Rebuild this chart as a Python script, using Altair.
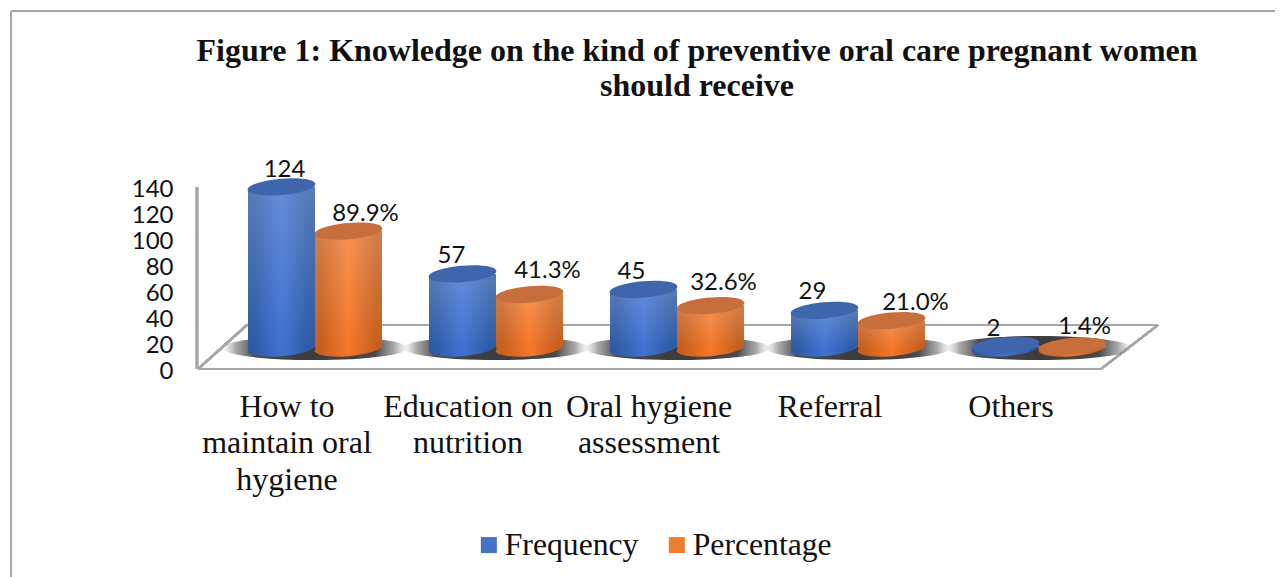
import altair as alt
import pandas as pd

CATEGORIES = ["How to|maintain oral|hygiene", "Education on|nutrition", "Oral hygiene|assessment", "Referral", "Others"]
FREQUENCY = [124, 57, 45, 29, 2]
PERCENTAGE = [89.9, 41.3, 32.6, 21.0, 1.4]
SERIES = ["Frequency", "Percentage"]
Y_TICKS = [0, 20, 40, 60, 80, 100, 120, 140]
TITLE = ["Figure 1: Knowledge on the kind of preventive oral care pregnant women", "should receive"]

rows = []
for c, f, p in zip(CATEGORIES, FREQUENCY, PERCENTAGE):
    rows.append({"category": c, "series": "Frequency", "value": f, "label": f"{f}"})
    rows.append({"category": c, "series": "Percentage", "value": p, "label": f"{p:.1f}%"})
data = pd.DataFrame(rows)
cat_order = CATEGORIES

W, H = 1264, 566
OX, OY = 11, 11            # page position of the view's origin
PX_PER_UNIT = 1.3
ZERO_Y = 369 - OY
FLOOR_LEVEL = 21 / PX_PER_UNIT   # cylinders stand on the floor, behind its front edge (axis units)
GRAY = "#A6A6A6"

x_scale = alt.Scale(domain=cat_order, range=[224.5 - OX, 224.5 - OX + 905], paddingInner=0, paddingOuter=0)
off_scale = alt.Scale(domain=SERIES, range=[23.5, 157.5], paddingInner=0, paddingOuter=0)
y_scale = alt.Scale(domain=[-(H - ZERO_Y) / PX_PER_UNIT, ZERO_Y / PX_PER_UNIT], nice=False, zero=False)

X = alt.X("category:N", scale=x_scale, sort=cat_order, title=None,
          axis=alt.Axis(orient="bottom", offset=-(H - (391 - OY)), domain=False, ticks=False, grid=False,
                        labelAngle=0, labelFont="Liberation Serif", labelFontSize=32, labelColor="#111111",
                        labelOffset=-28, labelPadding=0, labelBaseline="top", labelLimit=0, labelLineHeight=36.5,
                        labelExpr="split(datum.label, '|')"))
XO = alt.XOffset("series:N", scale=off_scale)
Y_AXIS = alt.Axis(values=Y_TICKS, offset=-(197 - OX), domain=False, ticks=False, grid=False,
                  labelFont="Lato", labelFontSize=24, labelColor="#111111", labelPadding=24, labelOffset=2)
Y_TOP = alt.Y("top:Q", scale=y_scale, title=None, axis=Y_AXIS)
Y_FLOOR = alt.Y("floor:Q", scale=y_scale, title=None, axis=Y_AXIS)
Y2_FLOOR = alt.Y2("floor:Q")


def stops(*pairs):
    return [alt.GradientStop(offset=o, color=c) for o, c in pairs]


def hgrad(edge, mid):
    return alt.Gradient(gradient="linear", x1=0, x2=1, y1=0, y2=0,
                        stops=stops((0, edge), (0.08, edge), (0.5, mid), (0.92, edge), (1, edge)))


SHINE = alt.Gradient(gradient="linear", x1=0, x2=0, y1=0, y2=1,
                     stops=stops((0, "rgba(255,255,255,0.2)"), (1, "rgba(255,255,255,0)")))
SHADOW = alt.Gradient(gradient="radial", x1=0.5, y1=0.5, r1=0, x2=0.5, y2=0.5, r2=0.5,
                      stops=stops((0, "#3A3A3A"), (0.65, "#4A4A4A"), (0.85, "rgba(110,110,110,0.6)"),
                                  (1, "rgba(160,160,160,0)")))

K = 0.5523


def ellipse(ry):
    return (f"M-1,0 C-1,{-K*ry} {-K},{-ry} 0,{-ry} C{K},{-ry} 1,{-K*ry} 1,0 "
            f"C1,{K*ry} {K},{ry} 0,{ry} C{-K},{ry} -1,{K*ry} -1,0 Z")


ELLIPSE = ellipse(0.24)
SHADOW_SHAPE = ellipse(0.13)
TILT = 355

LOOK = {
    "Frequency": dict(edge="#2D5AA6", mid="#3F73D2", top="#3F66AC"),
    "Percentage": dict(edge="#C65E1C", mid="#F5782A", top="#C66F3C"),
}
# per-label nudges (px) so text clears the cylinders as in the figure
NUDGE = {
    "Frequency": [(3, -17), (-11, -18), (-12, -18), (-12, -18), (-12, -16)],
    "Percentage": [(17, -17), (18, -23), (13, -23), (24, -18), (12, -19)],
}

base = alt.Chart(data).transform_calculate(top=f"datum.value + {FLOOR_LEVEL}", floor=f"{FLOOR_LEVEL}")
layers = []


# frame and 3-D floor
def seg(x1, y1, x2, y2, width=2.2):
    return alt.Chart(data).mark_rule(color=GRAY, strokeWidth=width).encode(
        x=alt.value(x1 - OX), y=alt.value(y1 - OY), x2=alt.value(x2 - OX), y2=alt.value(y2 - OY))


layers += [seg(11, 11, 1275, 11, 2), seg(11, 11, 11, 577, 2)]
layers += [seg(247, 325, 1158, 325), seg(1158, 325, 1101, 369), seg(198, 369, 247, 325), seg(198, 369, 1101, 369),
           seg(197, 187, 197, 369)]

# soft floor shadow under each pair
layers.append(
    base.transform_filter(alt.datum.series == "Frequency")
    .mark_point(shape=SHADOW_SHAPE, size=186 ** 2, filled=True, fill=SHADOW, opacity=1)
    .encode(x=X, y=Y_FLOOR)
)

for s in SERIES:
    look = LOOK[s]
    sub = base.transform_filter(alt.datum.series == s)
    grad = hgrad(look["edge"], look["mid"])
    layers.append(
        sub.mark_point(shape=ELLIPSE, size=68 ** 2, angle=TILT, filled=True, fill=grad, opacity=1)
        .encode(x=X, xOffset=XO, y=Y_FLOOR)
    )
    bar_kw = dict(width=alt.RelativeBandSize(band=1), cornerRadiusTopLeft=5, cornerRadiusBottomRight=4)
    layers.append(
        sub.mark_bar(**bar_kw).encode(
            x=X, xOffset=XO, y=Y_TOP, y2=Y2_FLOOR,
            color=alt.Color("series:N", scale=alt.Scale(domain=SERIES, range=["#4472C4", "#ED7D31"]),
                            legend=alt.Legend(orient="none", legendX=473 - OX, legendY=529 - OY, direction="horizontal",
                                              title=None, symbolType="square", symbolSize=256, symbolStrokeWidth=0,
                                              labelFont="Liberation Serif", labelFontSize=31.7, labelColor="#111111",
                                              labelOffset=0, columnPadding=22, padding=0, labelLimit=0)))
    )
    layers.append(sub.mark_bar(fill=grad, **bar_kw).encode(x=X, xOffset=XO, y=Y_TOP, y2=Y2_FLOOR))
    layers.append(sub.mark_bar(fill=SHINE, **bar_kw).encode(x=X, xOffset=XO, y=Y_TOP, y2=Y2_FLOOR))
    layers.append(
        sub.mark_point(shape=ELLIPSE, size=68 ** 2, angle=TILT, filled=True, fill=look["top"], opacity=1)
        .encode(x=X, xOffset=XO, y=Y_TOP)
    )

for s in SERIES:
    for c, (dx, dy) in zip(CATEGORIES, NUDGE[s]):
        layers.append(
            base.transform_filter((alt.datum.series == s) & (alt.datum.category == c))
            .mark_text(font="Lato", fontSize=24, color="#111111", dx=dx, dy=dy)
            .encode(x=X, xOffset=XO, y=Y_TOP, text="label:N")
        )

chart = (
    alt.layer(*layers)
    .properties(
        width=W, height=H,
        padding={"left": OX - 8, "top": OY - 8, "right": 0, "bottom": 0},
        autosize=alt.AutoSizeParams(type="none"),
        title=alt.TitleParams(text=TITLE, font="Liberation Serif", fontSize=32, fontWeight="bold", color="#111111",
                              anchor="middle", frame="group", dx=54, offset=-93, lineHeight=35.5),
    )
    .configure_view(stroke=None)
)
chart.save("out.html", embed_options={"renderer": "svg", "actions": False})
